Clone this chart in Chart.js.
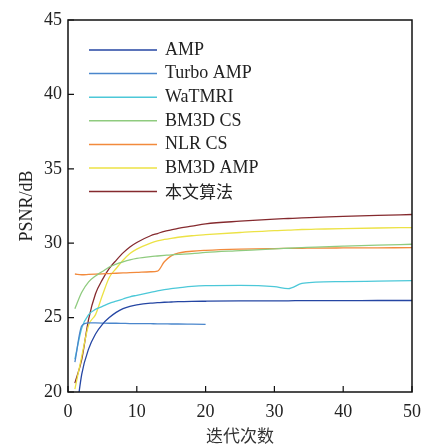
<!DOCTYPE html>
<html>
<head>
<meta charset="utf-8">
<script src="https://cdn.jsdelivr.net/npm/chart.js@4/dist/chart.umd.min.js"></script>
<style>
  html, body { margin: 0; padding: 0; background: #fff; }
  #wrap { width: 424px; height: 444px; }
</style>
</head>
<body>
<div id="wrap"><canvas id="psnrChart"></canvas></div>
<script>
// iteration numbers where values were read
const iters = [1, 2, 3, 4, 5, 6, 7, 8, 9, 10, 12, 13, 14, 15, 16, 18, 20, 25, 30, 32, 34, 36, 40, 45, 50];

const seriesNames = ["AMP", "Turbo AMP", "WaTMRI", "BM3D CS", "NLR CS", "BM3D AMP", "本文算法"];

const amp      = [17.8, 21.2, 22.9, 23.9, 24.55, 25.0, 25.35, 25.6, 25.75, 25.85, 25.97, 26.0, 26.03, 26.05, 26.07, 26.09, 26.1, 26.12, 26.13, 26.13, 26.14, 26.14, 26.14, 26.15, 26.15];
const turboAmp = [22.0, 24.45, 24.65, 24.64, 24.63, 24.62, 24.62, 24.61, 24.6, 24.6, 24.59, 24.58, 24.58, 24.57, 24.57, 24.56, 24.55, null, null, null, null, null, null, null, null];
const watmri   = [22.2, 24.3, 25.2, 25.55, 25.75, 25.95, 26.1, 26.25, 26.4, 26.5, 26.7, 26.8, 26.88, 26.95, 27.0, 27.1, 27.15, 27.17, 27.08, 26.95, 27.3, 27.38, 27.42, 27.45, 27.48];
const bm3dCs   = [25.6, 26.7, 27.4, 27.8, 28.1, 28.4, 28.6, 28.75, 28.88, 28.98, 29.1, 29.14, 29.18, 29.22, 29.25, 29.3, 29.38, 29.5, 29.62, 29.66, 29.7, 29.74, 29.8, 29.87, 29.93];
const nlrCs    = [27.93, 27.88, 27.9, 27.92, 27.94, 27.96, 27.98, 28.0, 28.02, 28.04, 28.08, 28.12, 28.75, 29.15, 29.33, 29.46, 29.52, 29.6, 29.64, 29.65, 29.66, 29.67, 29.68, 29.69, 29.7];
const bm3dAmp  = [20.2, 22.4, 24.5, 25.2, 26.5, 27.7, 28.3, 28.85, 29.3, 29.6, 30.0, 30.15, 30.25, 30.33, 30.4, 30.5, 30.57, 30.72, 30.85, 30.88, 30.92, 30.94, 30.98, 31.02, 31.05];
const ours     = [20.6, 22.2, 24.9, 26.6, 27.55, 28.3, 28.85, 29.35, 29.75, 30.05, 30.5, 30.65, 30.8, 30.9, 31.0, 31.15, 31.3, 31.48, 31.62, 31.66, 31.7, 31.73, 31.8, 31.87, 31.93];

const xTicks = [0, 10, 20, 30, 40, 50];
const yTicks = [20, 25, 30, 35, 40, 45];

const colors = ["#2546a3", "#4a86cc", "#4cc8d8", "#8fcb7f", "#f28a3c", "#ece245", "#852a2e"];
const allValues = [amp, turboAmp, watmri, bm3dCs, nlrCs, bm3dAmp, ours];

const serif = "'Liberation Serif', 'Times New Roman', 'Noto Sans CJK SC', serif";
const cjk = "'Noto Sans CJK SC', 'Liberation Serif', serif";

const datasets = allValues.map((vals, i) => ({
  label: seriesNames[i],
  data: iters.map((x, j) => ({ x: x, y: vals[j] })).filter(p => p.y !== null),
  borderColor: colors[i],
  backgroundColor: colors[i],
  borderWidth: 1.3,
  pointRadius: 0,
  fill: false,
  cubicInterpolationMode: "monotone"
}));

// box, inward ticks and legend inside the plot
const framePlugin = {
  id: "frame",
  afterDraw(chart) {
    const { ctx, chartArea: a, scales } = chart;
    ctx.save();
    ctx.strokeStyle = "#111";
    ctx.lineWidth = 1.5;
    ctx.strokeRect(a.left, a.top, a.right - a.left, a.bottom - a.top);
    ctx.lineWidth = 1.2;
    ctx.beginPath();
    yTicks.forEach(v => {
      const y = scales.y.getPixelForValue(v);
      ctx.moveTo(a.left, y); ctx.lineTo(a.left + 6, y);
    });
    xTicks.forEach(v => {
      const x = scales.x.getPixelForValue(v);
      ctx.moveTo(x, a.bottom); ctx.lineTo(x, a.bottom - 6);
    });
    ctx.stroke();

    // legend
    const x0 = a.left + 21, x1 = a.left + 89, tx = a.left + 97;
    let y = a.top + 30;
    chart.data.datasets.forEach(ds => {
      ctx.strokeStyle = ds.borderColor;
      ctx.lineWidth = 1.5;
      ctx.beginPath();
      ctx.moveTo(x0, y); ctx.lineTo(x1, y);
      ctx.stroke();
      ctx.fillStyle = "#222";
      ctx.textBaseline = "middle";
      ctx.textAlign = "left";
      ctx.font = /[\u4e00-\u9fff]/.test(ds.label) ? "17px " + cjk : "18px " + serif;
      ctx.fillText(ds.label, tx, y);
      y += 23.6;
    });
    ctx.restore();
  }
};

new Chart(document.getElementById("psnrChart"), {
  type: "line",
  data: { datasets: datasets },
  options: {
    responsive: true,
    maintainAspectRatio: false,
    animation: false,
    layout: { padding: { top: 20, right: 12, left: 0, bottom: 0 } },
    plugins: {
      legend: { display: false },
      tooltip: { enabled: false }
    },
    scales: {
      x: {
        type: "linear",
        min: 0,
        max: 50,
        afterFit(scale) {
          scale.height = 52;
          scale.paddingLeft = 0;
          scale.paddingRight = 0;
        },
        afterBuildTicks(scale) { scale.ticks = xTicks.map(v => ({ value: v })); },
        grid: { display: false, drawTicks: false },
        border: { display: false },
        ticks: { color: "#222", padding: 9, font: { family: serif, size: 18 } },
        title: {
          display: true,
          text: "迭代次数",
          color: "#333",
          padding: { top: 0, bottom: -2 },
          font: { family: cjk, size: 17 }
        }
      },
      y: {
        min: 20,
        max: 45,
        afterFit(scale) {
          scale.width = 68;
          scale.paddingTop = 0;
          scale.paddingBottom = 0;
        },
        afterBuildTicks(scale) { scale.ticks = yTicks.map(v => ({ value: v })); },
        grid: { display: false, drawTicks: false },
        border: { display: false },
        ticks: { color: "#222", padding: 6, font: { family: serif, size: 18 } },
        title: {
          display: true,
          text: "PSNR/dB",
          color: "#222",
          padding: { top: 16, bottom: 0 },
          font: { family: serif, size: 18 }
        }
      }
    }
  },
  plugins: [framePlugin]
});
</script>
</body>
</html>
